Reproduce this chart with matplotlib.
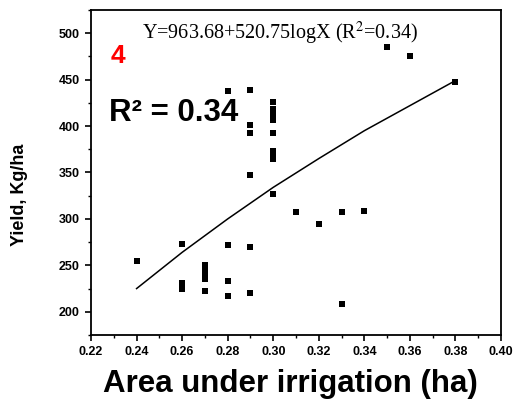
import matplotlib
matplotlib.use("Agg")
import matplotlib.pyplot as plt
from matplotlib.ticker import MultipleLocator

plt.rcParams['font.family'] = ['Liberation Sans', 'DejaVu Sans']
plt.rcParams['mathtext.fontset'] = 'stix'

# data
area = [0.24, 0.26, 0.26, 0.26, 0.27, 0.27, 0.27, 0.27, 0.27,
        0.28, 0.28, 0.28, 0.28, 0.29, 0.29, 0.29, 0.29, 0.29, 0.29,
        0.30, 0.30, 0.30, 0.30, 0.30, 0.30, 0.30, 0.30, 0.30,
        0.31, 0.32, 0.33, 0.33, 0.34, 0.35, 0.36, 0.38]
yield_kg = [255, 273, 231, 225, 250, 245, 240, 235, 222,
            438, 272, 233, 217, 439, 401, 393, 347, 270, 220,
            426, 418, 412, 407, 392, 373, 369, 364, 327,
            307, 295, 307, 208, 309, 485, 475, 447]

# log trend line, read at a few x positions
fit_x = [0.24, 0.26, 0.28, 0.30, 0.32, 0.34, 0.36, 0.38]
fit_y = [225, 264, 300, 334, 365, 395, 422, 449]

x_ticks = [0.22, 0.24, 0.26, 0.28, 0.30, 0.32, 0.34, 0.36, 0.38, 0.40]
y_ticks = [200, 250, 300, 350, 400, 450, 500]

fig = plt.figure(figsize=(5.16, 3.99), dpi=100)
ax = fig.add_axes([0.1764, 0.1604, 0.7946, 0.8146])

ax.plot(area, yield_kg, "s", color="black", markersize=5, markeredgewidth=0)
ax.plot(fit_x, fit_y, "-", color="black", linewidth=1.1)

ax.set_xlim(0.22, 0.40)
ax.set_ylim(175, 525)
ax.set_xticks(x_ticks)
ax.set_xticklabels([f"{t:.2f}" for t in x_ticks])
ax.set_yticks(y_ticks)
ax.xaxis.set_minor_locator(MultipleLocator(0.01))
ax.yaxis.set_minor_locator(MultipleLocator(25))

ax.tick_params(axis='both', which='major', direction='out', length=4, width=1.2,
               labelsize=9, pad=4)
ax.tick_params(axis='both', which='minor', direction='out', length=2, width=1)
for lab in ax.get_xticklabels() + ax.get_yticklabels():
    lab.set_fontweight('bold')
for sp in ax.spines.values():
    sp.set_linewidth(1.3)

ax.set_xlabel("Area under irrigation (ha)", fontsize=22.5, fontweight='bold')
ax.xaxis.set_label_coords(0.485, -0.105)
ax.set_ylabel("Yield, Kg/ha", fontsize=13, fontweight='bold')
ax.yaxis.set_label_coords(-0.154, 0.43)

ax.text(0.303, 500, "Y=963.68+520.75logX (R$^2$=0.34)", ha='center', va='center',
        fontsize=14.5, family=['Liberation Serif', 'DejaVu Serif'])
ax.text(0.2318, 475, "4", color='red', fontsize=19, fontweight='bold',
        ha='center', va='center')
ax.text(0.228, 405, "R² = 0.34", fontsize=22.5, fontweight='bold',
        ha='left', va='baseline')

fig.savefig("out.png", dpi=100)
